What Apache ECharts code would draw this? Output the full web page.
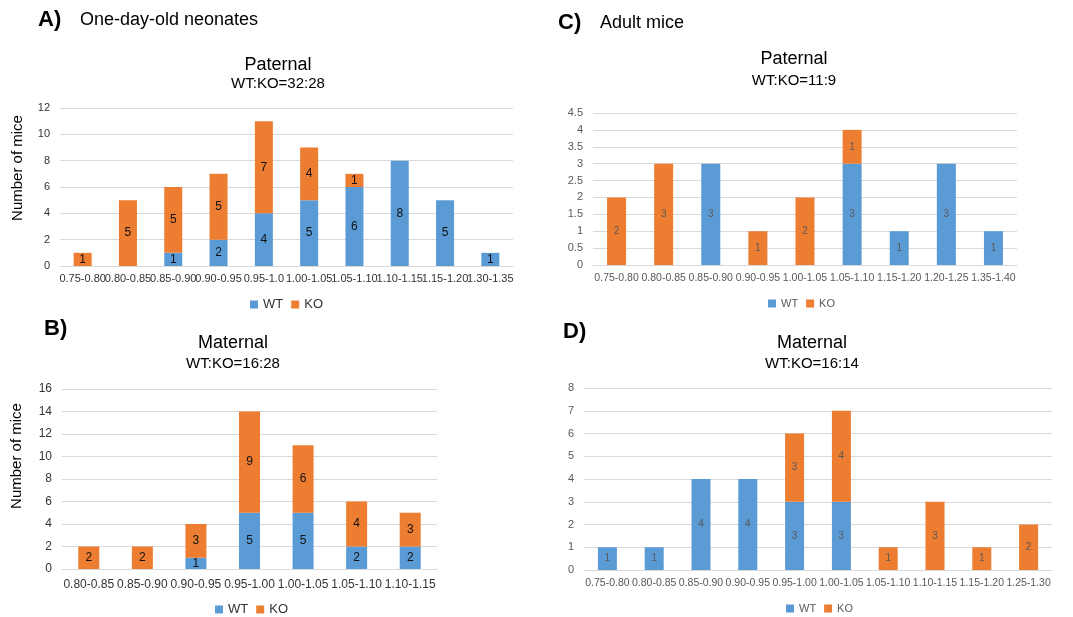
<!DOCTYPE html>
<html><head><meta charset="utf-8">
<script src="https://cdn.jsdelivr.net/npm/echarts@6/dist/echarts.min.js"></script>
<style>html,body{margin:0;padding:0;background:#fff}#c{width:1073px;height:617px}</style>
</head><body><div id="c"></div>
<script>
// Panel A: one-day-old neonates, paternal
const catsA = ['0.75-0.80','0.80-0.85','0.85-0.90','0.90-0.95','0.95-1.0','1.00-1.05','1.05-1.10','1.10-1.15','1.15-1.20','1.30-1.35'];
const wtA = [0,0,1,2,4,5,6,8,5,1];
const koA = [1,5,5,5,7,4,1,0,0,0];
// Panel B: one-day-old neonates, maternal
const catsB = ['0.80-0.85','0.85-0.90','0.90-0.95','0.95-1.00','1.00-1.05','1.05-1.10','1.10-1.15'];
const wtB = [0,0,1,5,5,2,2];
const koB = [2,2,3,9,6,4,3];
// Panel C: adult mice, paternal
const catsC = ['0.75-0.80','0.80-0.85','0.85-0.90','0.90-0.95','1.00-1.05','1.05-1.10','1.15-1.20','1.20-1.25','1.35-1.40'];
const wtC = [0,0,3,0,0,3,1,3,1];
const koC = [2,3,0,1,2,1,0,0,0];
// Panel D: adult mice, maternal
const catsD = ['0.75-0.80','0.80-0.85','0.85-0.90','0.90-0.95','0.95-1.00','1.00-1.05','1.05-1.10','1.10-1.15','1.15-1.20','1.25-1.30'];
const wtD = [1,1,4,4,3,3,0,0,0,0];
const koD = [0,0,0,0,3,4,1,3,1,2];

const BLUE = '#5B9BD5', ORANGE = '#ED7D31';
const FONT = 'Liberation Sans, Arial, sans-serif';

const chart = echarts.init(document.getElementById('c'));

function xAx(i, cats, fs, col, margin){
  return {type:'category', gridIndex:i, data:cats,
    axisLine:{lineStyle:{color:'#d9d9d9'}}, axisTick:{show:false},
    axisLabel:{interval:0, fontSize:fs, color:col, fontFamily:FONT, margin:margin}};
}
function yAx(i, max, itv, fs, col){
  return {type:'value', gridIndex:i, min:0, max:max, interval:itv,
    axisLine:{show:false}, axisTick:{show:false},
    splitLine:{lineStyle:{color:'#d9d9d9'}},
    axisLabel:{fontSize:fs, color:col, fontFamily:FONT, margin:10}};
}
function ser(i, name, data, color, bw, lfs, lcol){
  return {type:'bar', name:name, xAxisIndex:i, yAxisIndex:i, stack:'s'+i, data:data,
    barWidth:bw, itemStyle:{color:color},
    label:{show:true, position:'inside', fontSize:lfs, color:lcol, fontFamily:FONT,
      formatter:p => p.value ? String(p.value) : ''}};
}
function txt(t, x, y, size, bold, align, rot){
  return {type:'text', x:x, y:y, rotation:rot||0, style:{text:t, x:0, y:0, font:(bold?'bold ':'')+size+'px '+FONT,
    fill:'#000', textAlign:align||'center', textVerticalAlign:'middle'}};
}
function leg(left, top, fs, col){
  return {left:left, top:top, itemWidth:8, itemHeight:8, itemGap:8, icon:'rect', padding:0,
    data:['WT','KO'], textStyle:{fontSize:fs, color:col, fontFamily:FONT}};
}

const option = {
  animation:false,
  grid:[
    {left:60, right:560, top:108, bottom:351},
    {left:62, right:636, top:389, bottom:48},
    {left:593, right:56, top:113, bottom:352},
    {left:584, right:21, top:388, bottom:47}
  ],
  xAxis:[xAx(0,catsA,11,'#333',7), xAx(1,catsB,12,'#333',10), xAx(2,catsC,10.5,'#595959',8), xAx(3,catsD,10.5,'#595959',8)],
  yAxis:[yAx(0,12,2,11,'#333'), yAx(1,16,2,12,'#333'),
         yAx(2,4.5,0.5,11,'#595959'), yAx(3,8,1,11,'#595959')],
  legend:[
    leg(250,298,13,'#333'),
    leg(215,603,13,'#333'),
    leg(768,298,11,'#595959'),
    leg(786,603,11,'#595959')
  ],
  series:[
    ser(0,'WT',wtA,BLUE,18,12,'#111'), ser(0,'KO',koA,ORANGE,18,12,'#111'),
    ser(1,'WT',wtB,BLUE,21,12,'#111'), ser(1,'KO',koB,ORANGE,21,12,'#111'),
    ser(2,'WT',wtC,BLUE,19,10,'#595959'), ser(2,'KO',koC,ORANGE,19,10,'#595959'),
    ser(3,'WT',wtD,BLUE,19,10,'#595959'), ser(3,'KO',koD,ORANGE,19,10,'#595959')
  ],
  graphic:[
    txt('A)',38,20,22,true,'left'), txt('One-day-old neonates',80,20,18,false,'left'),
    txt('Paternal',278,65,18), txt('WT:KO=32:28',278,84,15),
    txt('Number of mice',18,168,15,false,'center',Math.PI/2),
    txt('B)',44,329,22,true,'left'),
    txt('Maternal',233,343,18), txt('WT:KO=16:28',233,364,15),
    txt('Number of mice',17,456,15,false,'center',Math.PI/2),
    txt('C)',558,23,22,true,'left'), txt('Adult mice',600,23,18,false,'left'),
    txt('Paternal',794,59,18), txt('WT:KO=11:9',794,81,15),
    txt('D)',563,332,22,true,'left'),
    txt('Maternal',812,343,18), txt('WT:KO=16:14',812,364,15)
  ]
};
chart.setOption(option);
</script></body></html>
